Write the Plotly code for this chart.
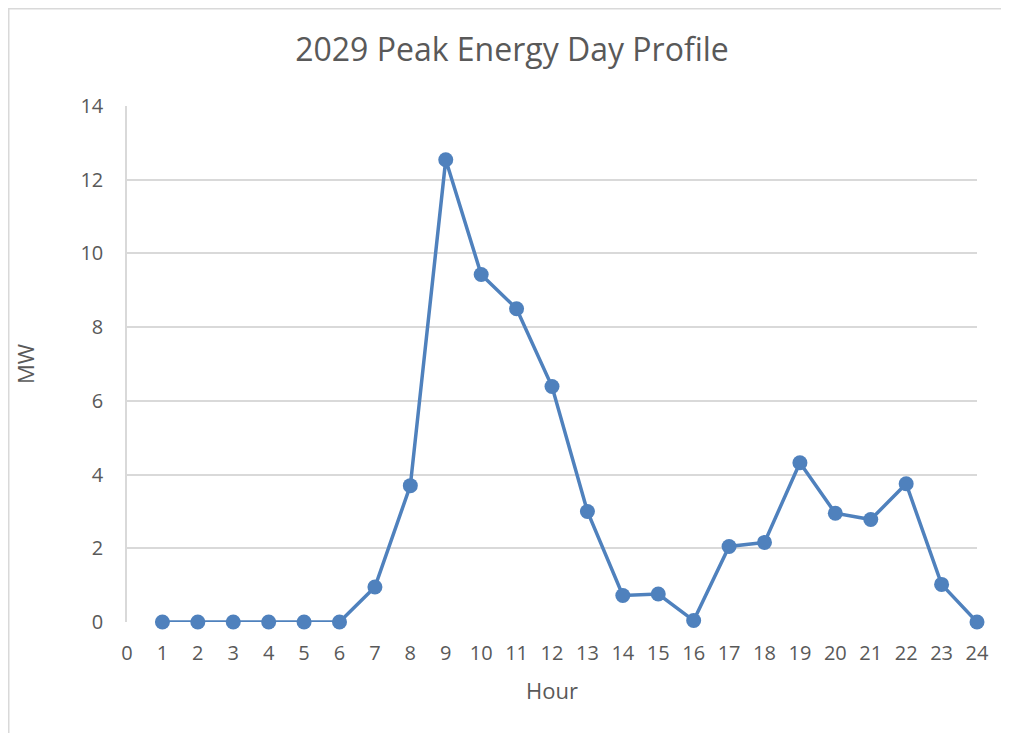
import plotly.graph_objects as go

hours = list(range(1, 25))
mw = [0, 0, 0, 0, 0, 0, 0.95, 3.70, 12.54, 9.43, 8.50, 6.39,
      3.00, 0.72, 0.76, 0.04, 2.05, 2.16, 4.32, 2.95, 2.78, 3.75, 1.02, 0]
x_ticks = list(range(0, 25))
y_ticks = [0, 2, 4, 6, 8, 10, 12, 14]

title_text = "2029 Peak Energy Day Profile"
x_title = "Hour"
y_title = "MW"

font_family = "Open Sans, Lato, sans-serif"
text_color = "#595959"
grid_color = "#d9d9d9"
line_color = "#4f81bd"

# page has an 8px body margin, so figure is sized to fit the window
W, H = 1001, 725
L, T = 119, 98
PW, PH = 850, 516.5

fig = go.Figure()
fig.add_trace(go.Scatter(
    x=hours, y=mw, mode="lines+markers",
    line=dict(color=line_color, width=3.5),
    marker=dict(color=line_color, size=15),
    showlegend=False, cliponaxis=False,
))

fig.update_layout(
    width=W, height=H,
    margin=dict(l=L, r=W - L - PW, t=T, b=H - T - PH, autoexpand=False),
    paper_bgcolor="white", plot_bgcolor="white",
    font=dict(family=font_family, color=text_color, size=20),
    title=dict(text=title_text, x=504 / W, xref="container", xanchor="center",
               y=1 - 42 / H, yref="container", yanchor="middle",
               font=dict(size=32, color=text_color, family=font_family)),
    xaxis=dict(range=[0, 24], tickvals=x_ticks, ticktext=[str(v) for v in x_ticks],
               showgrid=False, zeroline=False, showline=False,
               ticks="outside", ticklen=13, tickcolor="rgba(0,0,0,0)",
               title=dict(text=x_title, standoff=18, font=dict(size=22)),
               tickfont=dict(size=20)),
    yaxis=dict(range=[0, 14], tickvals=y_ticks, ticktext=[str(v) for v in y_ticks],
               showgrid=True, gridcolor=grid_color, gridwidth=1.5,
               zeroline=False, showline=True, linecolor=grid_color, linewidth=1.5,
               ticks="outside", ticklen=18, tickcolor="rgba(0,0,0,0)",
               title=dict(text=y_title, standoff=40, font=dict(size=22)),
               tickfont=dict(size=20)),
    shapes=[dict(type="rect", xref="paper", yref="paper",
                 x0=(0.75 - L) / PW, x1=(W + 10 - L) / PW,
                 y0=-(H + 10 - T - PH) / PH, y1=(T + PH - 0.75) / PH,
                 line=dict(color="#d9d9d9", width=1.5), fillcolor="rgba(0,0,0,0)",
                 layer="below")],
)

fig.write_html("out.html")
